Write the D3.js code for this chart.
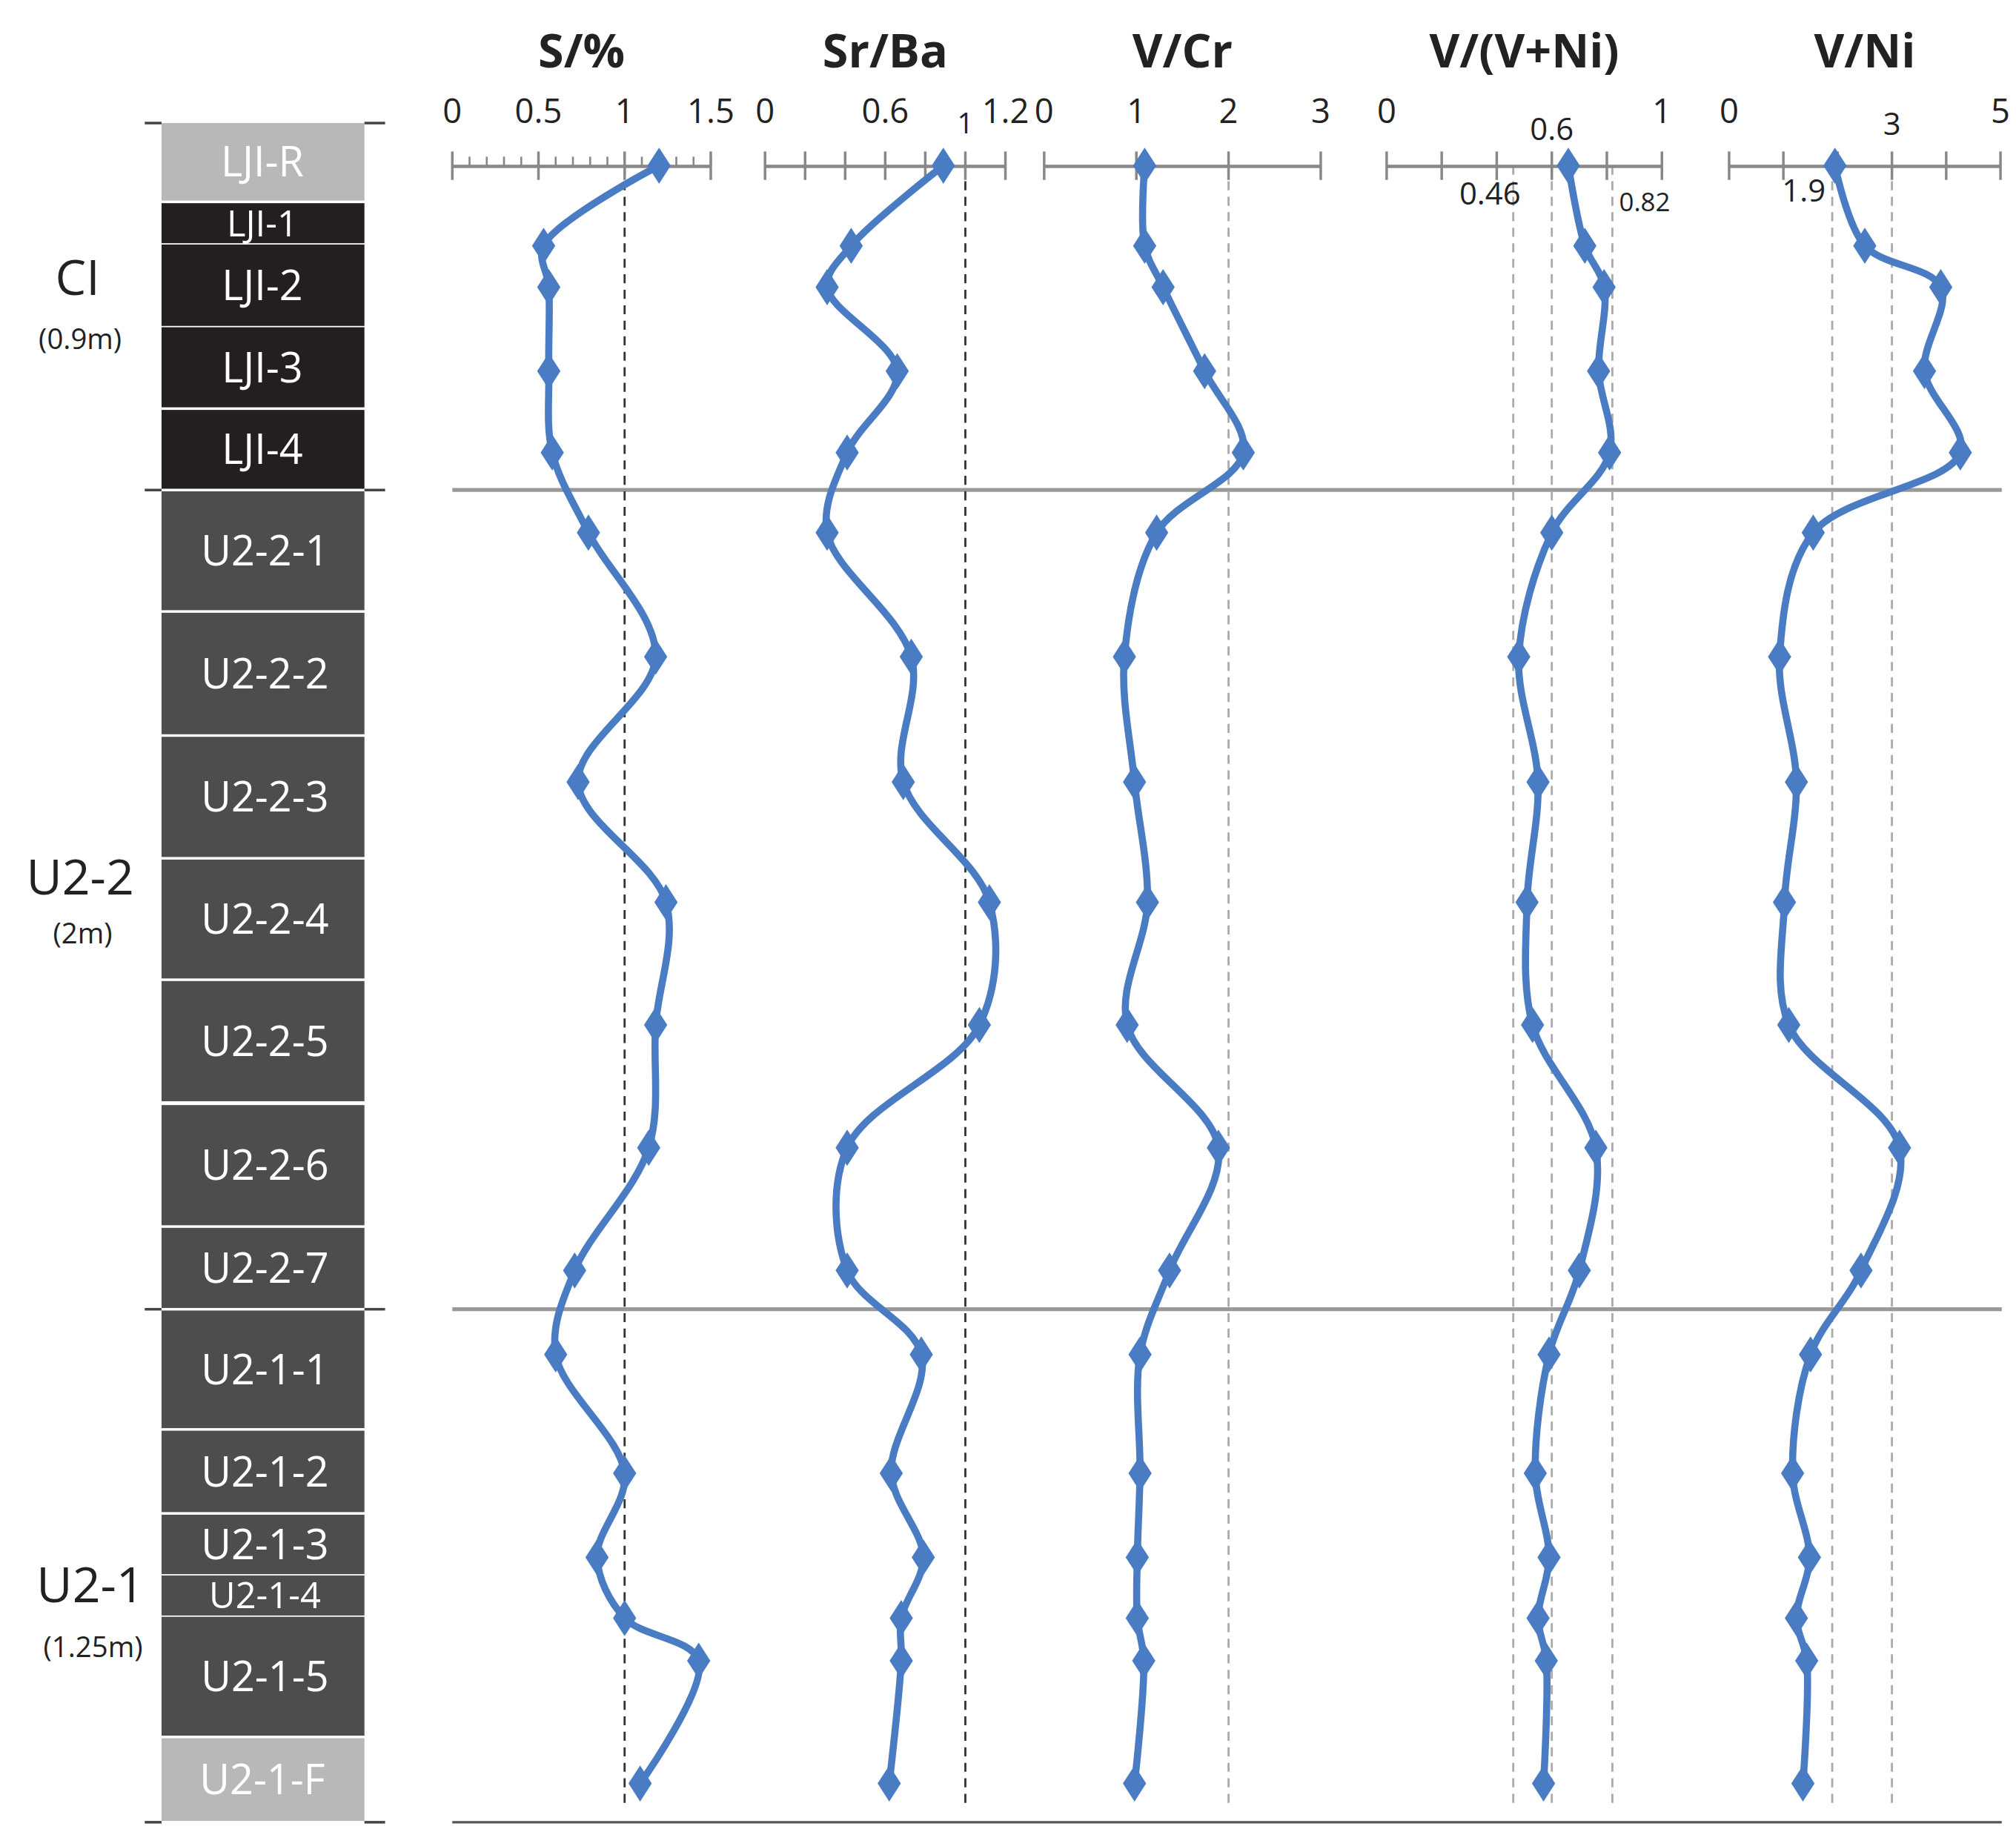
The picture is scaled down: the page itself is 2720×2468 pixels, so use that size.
<!DOCTYPE html>
<html><head><meta charset="utf-8">
<script src="https://cdn.jsdelivr.net/npm/d3@7"></script>
<style>body{margin:0;background:#fff}svg{display:block}</style></head>
<body><svg id="c" width="2720" height="2468" viewBox="0 0 1560 1415"></svg>
<script>
// sample depth positions (relative depth units)
const depths=[128,190,222,287,350,412,508,605,698,793,888,983,1048,1140,1205,1252,1285,1380];
const sValues=[1.2,0.53,0.56,0.56,0.58,0.79,1.18,0.73,1.24,1.18,1.14,0.71,0.6,1.0,0.84,1.0,1.43,1.09];
const srbaValues=[0.89,0.43,0.31,0.66,0.41,0.31,0.73,0.69,1.12,1.07,0.41,0.41,0.78,0.63,0.79,0.68,0.68,0.62];
const vcrValues=[1.09,1.09,1.29,1.74,2.16,1.22,0.87,0.98,1.12,0.9,1.89,1.36,1.04,1.04,1.01,1.01,1.08,0.98];
const vvniValues=[0.66,0.72,0.79,0.77,0.81,0.6,0.48,0.55,0.51,0.53,0.76,0.7,0.59,0.54,0.59,0.55,0.58,0.57];
const vniValues=[1.95,2.5,3.9,3.6,4.26,1.55,0.93,1.24,1.02,1.1,3.14,2.43,1.5,1.17,1.48,1.24,1.43,1.36];
const layerNames=["LJI-R","LJI-1","LJI-2","LJI-3","LJI-4","U2-2-1","U2-2-2","U2-2-3","U2-2-4","U2-2-5","U2-2-6","U2-2-7","U2-1-1","U2-1-2","U2-1-3","U2-1-4","U2-1-5","U2-1-F"];
const layerTops=[95,157,189,253,317,380,474,570,665,759,855,950,1014,1107,1172,1219,1251,1345];
const layerBottoms=[155,188,252,315,378,472,568,663,757,852,948,1012,1105,1170,1218,1250,1343,1409];
const layerKinds=["light","black","black","black","black","dark","dark","dark","dark","dark","dark","dark","dark","dark","dark","dark","dark","light"];
const units=[["CI","(0.9m)",228,270,60],["U2-2","(2m)",692,730,62],["U2-1","(1.25m)",1240,1282,70]];
const panels=[
 {title:"S/%",values:sValues,domain:[0,1.5],range:[350,550],ticks:[0,0.5,1,1.5],minor:0.1,labels:[[0,"0"],[0.5,"0.5"],[1,"1"],[1.5,"1.5"]],ref:[[1,"#333"]],extra:[]},
 {title:"Sr/Ba",values:srbaValues,domain:[0,1.2],range:[592,778],ticks:[0,0.2,0.4,0.6,0.8,1,1.2],minor:null,labels:[[0,"0"],[0.6,"0.6"],[1.2,"1.2"]],ref:[[1,"#333"]],extra:[[1,"1",103,22]]},
 {title:"V/Cr",values:vcrValues,domain:[0,3],range:[808,1022],ticks:[0,1,2,3],minor:null,labels:[[0,"0"],[1,"1"],[2,"2"],[3,"3"]],ref:[[2,"#aaa"]],extra:[]},
 {title:"V/(V+Ni)",values:vvniValues,domain:[0,1],range:[1073,1286],ticks:[0,0.2,0.4,0.6,0.8,1],minor:null,labels:[[0,"0"],[1,"1"]],ref:[[0.46,"#aaa"],[0.6,"#aaa"],[0.82,"#aaa"]],extra:[[0.6,"0.6",108,24],[0.46,"0.46",158,24,-18],[0.82,"0.82",163,20,25]]},
 {title:"V/Ni",values:vniValues,domain:[0,5],range:[1338,1548],ticks:[0,1,2,3,4,5],minor:null,labels:[[0,"0"],[5,"5"]],ref:[[1.9,"#aaa"],[3,"#aaa"]],extra:[[3,"3",104,24],[1.9,"1.9",156,24,-22]]}
];
const svg=d3.select("#c");
const y=d3.scaleLinear().domain([0,1415]).range([0,1415]);
const font="Open Sans, DejaVu Sans, sans-serif";
const fills={light:"#b8b8b8",black:"#231f20",dark:"#4d4d4d"};
// column
layerNames.forEach((n,i)=>{
 svg.append("rect").attr("x",125).attr("width",157).attr("y",y(layerTops[i])).attr("height",y(layerBottoms[i])-y(layerTops[i])).attr("fill",fills[layerKinds[i]]);
 const h=layerBottoms[i]-layerTops[i];
 svg.append("text").attr("x",i<5||i==17?203:205).attr("y",y((layerTops[i]+layerBottoms[i])/2)).attr("dy","0.36em").attr("text-anchor","middle")
  .attr("fill","#fff").attr("font-family",font).attr("font-size",h<35?28:32).text(n);
});
[95,379,1013,1410].forEach(v=>{
 svg.append("line").attr("x1",112).attr("x2",125).attr("y1",y(v)).attr("y2",y(v)).attr("stroke","#444").attr("stroke-width",2);
 svg.append("line").attr("x1",282).attr("x2",298).attr("y1",y(v)).attr("y2",y(v)).attr("stroke","#444").attr("stroke-width",2);
});
units.forEach(u=>{
 svg.append("text").attr("x",u[4]).attr("y",u[2]).attr("text-anchor","middle").attr("font-family",font).attr("font-size",38).attr("fill","#222").text(u[0]);
 svg.append("text").attr("x",u[4]+2).attr("y",u[3]).attr("text-anchor","middle").attr("font-family",font).attr("font-size",22).attr("fill","#222").text(u[1]);
});
// separators
[379,1013].forEach(v=>svg.append("line").attr("x1",350).attr("x2",1549).attr("y1",y(v)).attr("y2",y(v)).attr("stroke","#999").attr("stroke-width",3));
svg.append("line").attr("x1",350).attr("x2",1549).attr("y1",y(1410)).attr("y2",y(1410)).attr("stroke","#555").attr("stroke-width",2);
const axisY=128;
panels.forEach(p=>{
 const x=d3.scaleLinear().domain(p.domain).range(p.range);
 const g=svg.append("g");
 g.append("text").attr("x",(p.range[0]+p.range[1])/2).attr("y",52).attr("text-anchor","middle").attr("font-family",font).attr("font-weight","bold").attr("font-size",36).attr("fill","#222").text(p.title);
 p.ref.forEach(r=>g.append("line").attr("x1",x(r[0])).attr("x2",x(r[0])).attr("y1",axisY).attr("y2",y(1400)).attr("stroke",r[1]).attr("stroke-width",1.6).attr("stroke-dasharray","7,5"));
 const ax=g.append("g").attr("transform",`translate(0,${axisY})`).call(d3.axisBottom(x).tickValues(p.ticks).tickSize(0).tickFormat(""));
 ax.select(".domain").attr("stroke","#888").attr("stroke-width",2.5);
 p.ticks.forEach(t=>g.append("line").attr("x1",x(t)).attr("x2",x(t)).attr("y1",axisY-11).attr("y2",axisY+11).attr("stroke","#888").attr("stroke-width",2));
 if(p.minor){d3.range(p.domain[0],p.domain[1]+1e-9,p.minor).forEach(t=>g.append("line").attr("x1",x(t)).attr("x2",x(t)).attr("y1",axisY-7).attr("y2",axisY).attr("stroke","#888").attr("stroke-width",1.5));}
 p.labels.forEach(l=>g.append("text").attr("x",x(l[0])).attr("y",95).attr("text-anchor","middle").attr("font-family",font).attr("font-size",26).attr("fill","#222").text(l[1]));
 p.extra.forEach(l=>g.append("text").attr("x",x(l[0])+(l[4]||0)).attr("y",l[2]).attr("text-anchor","middle").attr("font-family",font).attr("font-size",l[3]).attr("fill","#222").text(l[1]));
 const pts=p.values.map((v,i)=>[x(v),y(depths[i])]);
 g.append("path").attr("d",d3.line().curve(d3.curveCatmullRom.alpha(0.5))(pts)).attr("fill","none").attr("stroke","#4a7cc4").attr("stroke-width",5.5);
 g.selectAll(null).data(pts).enter().append("path").attr("transform",d=>`translate(${d[0]},${d[1]})`).attr("d","M0,-14L9,0L0,14L-9,0Z").attr("fill","#4a7cc4");
});
</script></body></html>
